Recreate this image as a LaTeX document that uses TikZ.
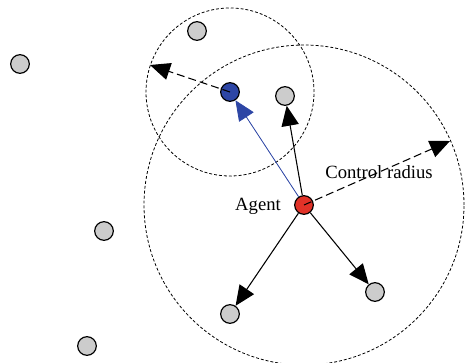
\documentclass[tikz,border=0pt]{standalone}
\usepackage{fontspec}
\setmainfont{Liberation Serif}
\usetikzlibrary{arrows.meta}

\tikzset{
  robot/.style={circle, draw=black, line width=0.9pt, minimum size=14pt, inner sep=0pt},
  other/.style={robot, fill=black!20},
  agent/.style={robot, fill={rgb,255:red,225;green,50;blue,40}},
  leader/.style={robot, fill={rgb,255:red,45;green,70;blue,165}},
  radiusline/.style={dashed, dash pattern=on 2.2pt off 1.5pt, line width=0.6pt},
  toarrow/.style={-{Triangle[length=15pt,width=13pt]}, line width=0.8pt},
  dasharrow/.style={toarrow, dashed, dash pattern=on 6pt off 3pt},
  lbl/.style={font=\fontsize{14}{16}\selectfont}
}

\begin{document}
\begin{tikzpicture}[x=0.75pt, y=-0.75pt]
    % Marco del dibujo
    \useasboundingbox (0,0) rectangle (468,363);

    % Robots
    \node[other] (n1) at (20,64) {};
    \node[other] (n2) at (197,31) {};
    \node[leader] (lead) at (230,92) {};
    \node[other] (n3) at (285,96) {};
    \node[agent] (ag) at (304,205) {};
    \node[other] (n4) at (104,231) {};
    \node[other] (n5) at (230,314) {};
    \node[other] (n6) at (375,292) {};
    \node[other] (n7) at (87,346) {};

    % Radios de control
    \draw[radiusline] (lead.center) circle (63pt);
    \draw[radiusline] (ag.center) circle (120pt);

    % Extremos de los radios
    \coordinate (tl) at (150,65);
    \coordinate (cr) at (450,141);

    % Flechas desde el agente
    \draw[toarrow, draw={rgb,255:red,45;green,70;blue,165}, fill={rgb,255:red,45;green,70;blue,165}, line width=0.6pt] (ag) -- (lead);
    \draw[toarrow] (ag) -- (n3);
    \draw[toarrow] (ag) -- (n5);
    \draw[toarrow] (ag) -- (n6);

    % Radios
    \draw[dasharrow] (lead.center) -- (tl);
    \draw[dasharrow] (ag.center) -- (cr);

    % Etiquetas
    \node[lbl] (agl) at (258,206) {Agent};
    \node[lbl] (crl) at (379,172) {Control radius};
  \end{tikzpicture}
\end{document}
